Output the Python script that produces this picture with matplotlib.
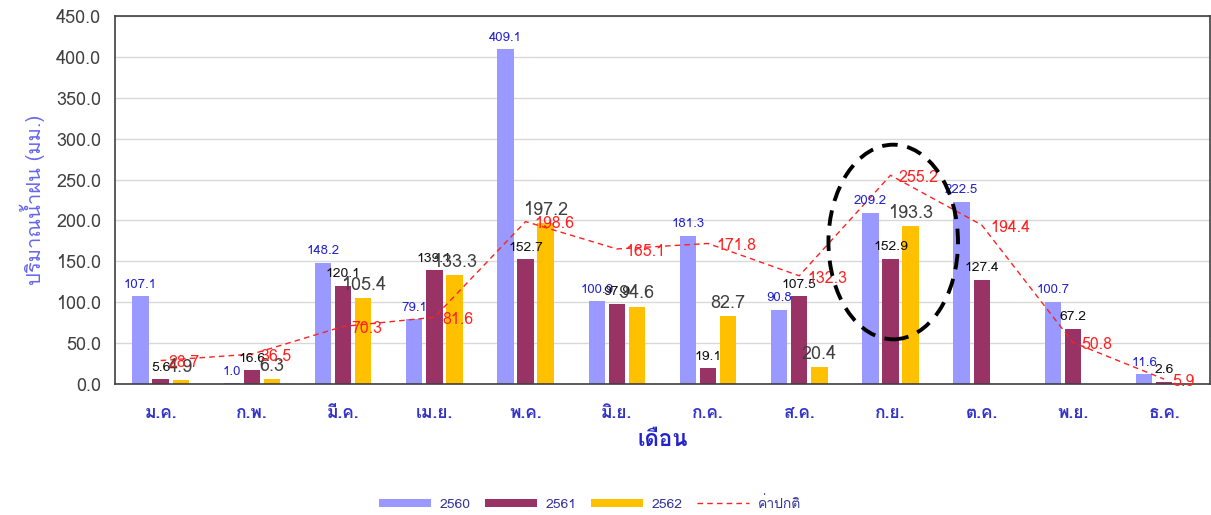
import numpy as np
import matplotlib
matplotlib.use('Agg')
import matplotlib.pyplot as plt
from matplotlib import font_manager
from matplotlib.ft2font import FT2Font
from matplotlib.patches import Ellipse

# find a font that has Thai glyphs
thai = None
for f in font_manager.fontManager.ttflist:
    try:
        if 0x0E01 in FT2Font(f.fname).get_charmap():
            thai = f.name
            break
    except Exception:
        pass
fams = ([thai] if thai else []) + ['DejaVu Sans']
plt.rcParams['font.family'] = fams

months = ['ม.ค.', 'ก.พ.', 'มี.ค.', 'เม.ย.', 'พ.ค.', 'มิ.ย.',
          'ก.ค.', 'ส.ค.', 'ก.ย.', 'ต.ค.', 'พ.ย.', 'ธ.ค.']
y2560 = [107.1, 1.0, 148.2, 79.1, 409.1, 100.9, 181.3, 90.8, 209.2, 222.5, 100.7, 11.6]
y2561 = [5.6, 16.6, 120.1, 139.1, 152.7, 97.9, 19.1, 107.5, 152.9, 127.4, 67.2, 2.6]
y2562 = [4.9, 6.3, 105.4, 133.3, 197.2, 94.6, 82.7, 20.4, 193.3]
normal = [28.7, 36.5, 70.3, 81.6, 198.6, 165.1, 171.8, 132.3, 255.2, 194.4, 50.8, 5.9]

fig = plt.figure(figsize=(12.11, 5.15), dpi=100)
ax = fig.add_axes([0.095, 0.2544, 0.904, 0.7146])

x = np.arange(len(months))
w = 0.18
off = 0.22
b0 = ax.bar(x - off, y2560, w, color='#9999FF', label='2560', zorder=2)
b1 = ax.bar(x, y2561, w, color='#993366', label='2561', zorder=2)
b2 = ax.bar(x[:len(y2562)] + off, y2562, w, color='#FFC000', label='2562', zorder=2)
ln, = ax.plot(x, normal, '--', color='#FF2020', lw=1, dashes=(4, 3), label='ค่าปกติ', zorder=3)

for xi, v in zip(x - off, y2560):
    ax.annotate('%.1f' % v, (xi, v), xytext=(0, 4), textcoords='offset points',
                ha='center', va='bottom', fontsize=9.5, color='#2222CC', zorder=5)
for xi, v in zip(x, y2561):
    ax.annotate('%.1f' % v, (xi, v), xytext=(0, 4), textcoords='offset points',
                ha='center', va='bottom', fontsize=10, color='#111111', zorder=5)
for xi, v in zip(x[:len(y2562)] + off, y2562):
    ax.annotate('%.1f' % v, (xi, v), xytext=(0, 3), textcoords='offset points',
                ha='center', va='bottom', fontsize=13, color='#404040', zorder=5)
for xi, v in zip(x, normal):
    ax.annotate('%.1f' % v, (xi, v), xytext=(6, -2), textcoords='offset points',
                ha='left', va='center', fontsize=11.5, color='#FF2020', zorder=5)

ax.add_patch(Ellipse((8.03, 173.6), 1.42, 238, fill=False, ls=(0, (4, 2.5)),
                     lw=2.8, ec='black', zorder=6))

ax.set_xlim(-0.5, 11.5)
ax.set_ylim(0, 450)
ax.set_yticks(np.arange(0, 451, 50))
ax.set_yticklabels(['%.1f' % t for t in np.arange(0, 451, 50)], fontsize=13, color='#404040')
ax.set_xticks(x)
ax.set_xticklabels(months, fontsize=12.5, color='#3333CC', fontweight='bold')
ax.tick_params(length=0, pad=16, axis='x')
ax.tick_params(length=0, pad=10, axis='y')
ax.grid(axis='y', color='#D9D9D9', lw=1, zorder=0)
for s in ax.spines.values():
    s.set_color('#404040')
    s.set_linewidth(1.2)

ax.set_ylabel('ปริมาณน้ำฝน (มม.)', fontsize=14.5, color='#6666EE', labelpad=8)
ax.set_xlabel('เดือน', fontsize=16, color='#2222CC', fontweight='bold', labelpad=6)

fig.legend(handles=[b0, b1, b2, ln], loc='center', bbox_to_anchor=(0.487, 0.023),
           ncol=4, frameon=False, fontsize=10, handlelength=3.8, handleheight=0.5,
           columnspacing=1.0, handletextpad=0.6, labelcolor='#333399')

fig.savefig('out.png', dpi=100)
